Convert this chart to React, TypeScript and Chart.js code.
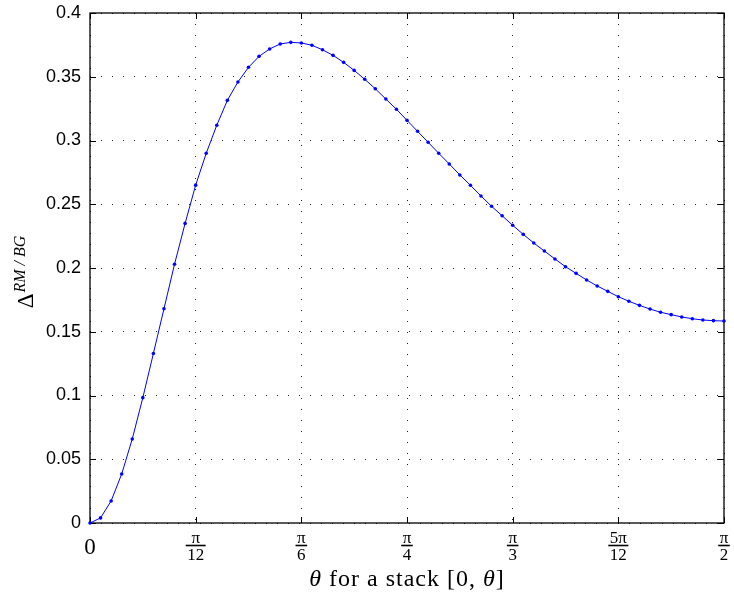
import React, { useEffect, useRef } from "react";
import { Chart, registerables } from "chart.js";
Chart.register(...registerables);

// stack angle theta in degrees (0 .. 90 = pi/2)
const thetaDeg = [
  0, 1.5, 3, 4.5, 6, 7.5, 9, 10.5, 12, 13.5, 15, 16.5, 18, 19.5, 21, 22.5, 24, 25.5, 27, 28.5,
  30, 31.5, 33, 34.5, 36, 37.5, 39, 40.5, 42, 43.5, 45, 46.5, 48, 49.5, 51, 52.5, 54, 55.5, 57, 58.5,
  60, 61.5, 63, 64.5, 66, 67.5, 69, 70.5, 72, 73.5, 75, 76.5, 78, 79.5, 81, 82.5, 84, 85.5, 87, 88.5, 90,
];

// Delta^{RM/BG}
const deltaRMBG = [
  0, 0.004, 0.0173, 0.0384, 0.0659, 0.0983, 0.133, 0.168, 0.203, 0.235,
  0.265, 0.29, 0.312, 0.3315, 0.3459, 0.3574, 0.366, 0.3718, 0.3757, 0.377,
  0.3765, 0.3747, 0.3712, 0.3668, 0.3613, 0.355, 0.348, 0.3406, 0.3325, 0.3245,
  0.3158, 0.3072, 0.2986, 0.29, 0.2816, 0.273, 0.2649, 0.2565, 0.2484, 0.241,
  0.2335, 0.2264, 0.2196, 0.2133, 0.2071, 0.201, 0.1958, 0.1906, 0.1859, 0.1817,
  0.1775, 0.1739, 0.1707, 0.1678, 0.1653, 0.1634, 0.1616, 0.1602, 0.1592, 0.1587,
  0.1584,
];

const xTickDeg = [0, 15, 30, 45, 60, 75, 90];
const xTickNum = ["0", "π", "π", "π", "π", "5π", "π"];
const xTickDen = ["", "12", "6", "4", "3", "12", "2"];
const yTicks = [0, 0.05, 0.1, 0.15, 0.2, 0.25, 0.3, 0.35, 0.4];
const yTickLabels = ["0", "0.05", "0.1", "0.15", "0.2", "0.25", "0.3", "0.35", "0.4"];

const xTitleParts: [string, boolean][] = [
  ["θ", true],
  [" for a stack [0, ", false],
  ["θ", true],
  ["]", false],
];

const SERIF = '"Liberation Serif", "DejaVu Serif", serif';

const decorPlugin = {
  id: "decor",
  beforeDatasetsDraw(chart: any) {
    const { ctx, chartArea } = chart;
    const { left, right, top, bottom } = chartArea;
    const xs = chart.scales.x;
    const ys = chart.scales.y;
    ctx.save();
    ctx.strokeStyle = "#000";
    ctx.lineWidth = 1.3;
    ctx.strokeRect(left, top, right - left, bottom - top);
    ctx.lineWidth = 1;
    ctx.beginPath();
    const tl = 6;
    xTickDeg.forEach((v) => {
      const px = Math.round(xs.getPixelForValue(v)) + 0.5;
      ctx.moveTo(px, bottom);
      ctx.lineTo(px, bottom - tl);
      ctx.moveTo(px, top);
      ctx.lineTo(px, top + tl);
    });
    yTicks.forEach((v) => {
      const py = Math.round(ys.getPixelForValue(v)) + 0.5;
      ctx.moveTo(left, py);
      ctx.lineTo(left + tl, py);
      ctx.moveTo(right, py);
      ctx.lineTo(right - tl, py);
    });
    ctx.stroke();
    ctx.restore();
  },
  afterDraw(chart: any) {
    const { ctx, chartArea } = chart;
    const { left, right, top, bottom } = chartArea;
    const xs = chart.scales.x;
    ctx.save();
    ctx.fillStyle = "#000";
    ctx.strokeStyle = "#000";
    // x tick labels as fractions
    xTickDeg.forEach((v, i) => {
      const px = xs.getPixelForValue(v);
      const num = xTickNum[i];
      const den = xTickDen[i];
      ctx.textAlign = "center";
      if (!den) {
        ctx.font = `23px ${SERIF}`;
        ctx.textBaseline = "alphabetic";
        ctx.fillText(num, px, bottom + 31);
        return;
      }
      ctx.font = `17px ${SERIF}`;
      const nw = ctx.measureText(num).width;
      ctx.font = `17px ${SERIF}`;
      const dw = ctx.measureText(den).width;
      const bw = Math.max(nw, dw) + 3;
      const barY = bottom + 22.5;
      ctx.font = `17px ${SERIF}`;
      ctx.textBaseline = "alphabetic";
      ctx.fillText(num, px, barY - 2.5);
      ctx.lineWidth = 1.6;
      ctx.beginPath();
      ctx.moveTo(px - bw / 2, barY);
      ctx.lineTo(px + bw / 2, barY);
      ctx.stroke();
      ctx.font = `17px ${SERIF}`;
      ctx.textBaseline = "alphabetic";
      ctx.fillText(den, px, barY + 14);
    });
    // x axis title
    const fs = 24;
    (ctx as any).letterSpacing = "1px";
    let total = 0;
    xTitleParts.forEach(([t, it]) => {
      ctx.font = `${it ? "italic " : ""}${fs}px ${SERIF}`;
      total += ctx.measureText(t).width;
    });
    let cx = (left + right) / 2 - total / 2;
    ctx.textAlign = "left";
    ctx.textBaseline = "alphabetic";
    xTitleParts.forEach(([t, it]) => {
      ctx.font = `${it ? "italic " : ""}${fs}px ${SERIF}`;
      ctx.fillText(t, cx, bottom + 63);
      cx += ctx.measureText(t).width;
    });
    (ctx as any).letterSpacing = "0px";
    // y axis title: Delta^{RM/BG}
    ctx.translate(33, (top + bottom) / 2 + 4);
    ctx.rotate(-Math.PI / 2);
    ctx.font = `23px ${SERIF}`;
    const dW = ctx.measureText("Δ").width;
    ctx.font = `italic 16px ${SERIF}`;
    const sup = "RM / BG";
    const sW = ctx.measureText(sup).width;
    const start = -(dW + sW + 1) / 2;
    ctx.textAlign = "left";
    ctx.font = `23px ${SERIF}`;
    ctx.fillText("Δ", start, 0);
    ctx.font = `italic 16px ${SERIF}`;
    ctx.fillText(sup, start + dW + 1, -8);
    ctx.restore();
  },
};

export default function App() {
  const ref = useRef<HTMLCanvasElement | null>(null);
  useEffect(() => {
    if (!ref.current) return;
    const chart = new Chart(ref.current, {
      type: "line",
      data: {
        datasets: [
          {
            data: thetaDeg.map((t, i) => ({ x: t, y: deltaRMBG[i] })),
            borderColor: "#0000ff",
            backgroundColor: "#0000ff",
            borderWidth: 1,
            pointRadius: 1.8,
            pointBorderWidth: 0,
            pointHoverRadius: 2,
            tension: 0,
            clip: false as any,
          },
        ],
      },
      options: {
        animation: false,
        responsive: true,
        maintainAspectRatio: false,
        layout: { padding: { left: 0, top: 13, right: 10, bottom: 72 } },
        plugins: { legend: { display: false }, tooltip: { enabled: false } },
        scales: {
          x: {
            type: "linear",
            min: 0,
            max: 90,
            afterBuildTicks: (s: any) => {
              s.ticks = xTickDeg.map((v) => ({ value: v }));
            },
            afterFit: (s: any) => {
              s.height = 0;
              s.paddingLeft = 0;
              s.paddingRight = 0;
              s.paddingTop = 0;
              s.paddingBottom = 0;
            },
            ticks: { display: false },
            grid: { color: "#222", lineWidth: 1, drawTicks: false },
            border: { display: false, dash: [1, 10] },
          },
          y: {
            type: "linear",
            min: 0,
            max: 0.4,
            afterBuildTicks: (s: any) => {
              s.ticks = yTicks.map((v) => ({ value: v }));
            },
            afterFit: (s: any) => {
              s.width = 90;
              s.paddingTop = 0;
              s.paddingBottom = 0;
              s.paddingLeft = 0;
              s.paddingRight = 0;
            },
            ticks: {
              padding: 9,
              color: "#000",
              font: { family: '"Liberation Sans", Arial, sans-serif', size: 18 },
              callback: (_v: any, i: number) => yTickLabels[i],
            },
            grid: { color: "#222", lineWidth: 1, drawTicks: false },
            border: { display: false, dash: [1, 10] },
          },
        },
      },
      plugins: [decorPlugin],
    });
    return () => chart.destroy();
  }, []);
  return (
    <div style={{ position: "absolute", left: 0, top: 0, width: 734, height: 595, background: "#fff" }}>
      <canvas ref={ref} />
    </div>
  );
}
